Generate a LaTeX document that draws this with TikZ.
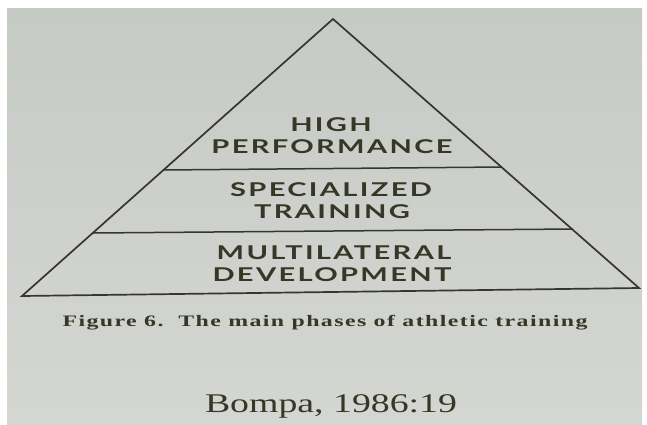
\documentclass[tikz,border=0pt]{standalone}
\usepackage{fontspec}
\setmainfont{Liberation Serif}
\newfontfamily\pyrfont[LetterSpace=8]{Lato}
\newfontfamily\capfont[LetterSpace=6]{Liberation Serif}
\definecolor{paper}{RGB}{198,202,197}
\definecolor{paperlow}{RGB}{212,214,210}
\definecolor{ink}{RGB}{55,55,38}
\definecolor{line}{RGB}{55,53,47}
\tikzset{
  layer/.style={font=\pyrfont\bfseries\fontsize{19}{19}\selectfont, text=ink, xscale=1.53, inner sep=0pt},
  caption/.style={font=\capfont\bfseries\fontsize{16}{16}\selectfont, text=ink, xscale=1.49, inner sep=0pt},
  source/.style={font=\fontsize{27}{27}\selectfont, text=ink, xscale=1.4, inner sep=0pt},
  edge/.style={draw=line, line width=1.7pt, line join=miter},
  divider/.style={draw=line, line width=1.5pt}
}
\begin{document}
\begin{tikzpicture}[x=1pt, y=-1pt]
  \useasboundingbox (0,0) rectangle (647,424);
  % paper
  \fill[white] (0,0) rectangle (647,424);
  \shade[top color=paper, bottom color=paperlow] (7,8) rectangle (642,424);

  % pyramid corners
  \coordinate (apex) at (333,19);
  \coordinate (bl) at (22,296);
  \coordinate (br) at (639,288);
  % divider end points on the sides
  \coordinate (d1l) at (163,170);
  \coordinate (d1r) at (502,167);
  \coordinate (d2l) at (93,233);
  \coordinate (d2r) at (573,229);

  \draw[edge] (bl) -- (apex) -- (br) -- cycle;
  \draw[divider] (d1l) -- (d1r);
  \draw[divider] (d2l) -- (d2r);

  % layer labels
  \node[layer] (hp1) at (331,125) {HIGH};
  \node[layer] (hp2) at (332,147) {PERFORMANCE};
  \node[layer] (st1) at (331,190) {SPECIALIZED};
  \node[layer] (st2) at (332,212) {TRAINING};
  \node[layer] (md1) at (334,253) {MULTILATERAL};
  \node[layer] (md2) at (332,275) {DEVELOPMENT};

  \node[caption] (cap) at (325,323) {Figure 6.\ \ The main phases of athletic training};
  \node[source] (src) at (331,406) {Bompa, 1986:19};
\end{tikzpicture}
\end{document}
